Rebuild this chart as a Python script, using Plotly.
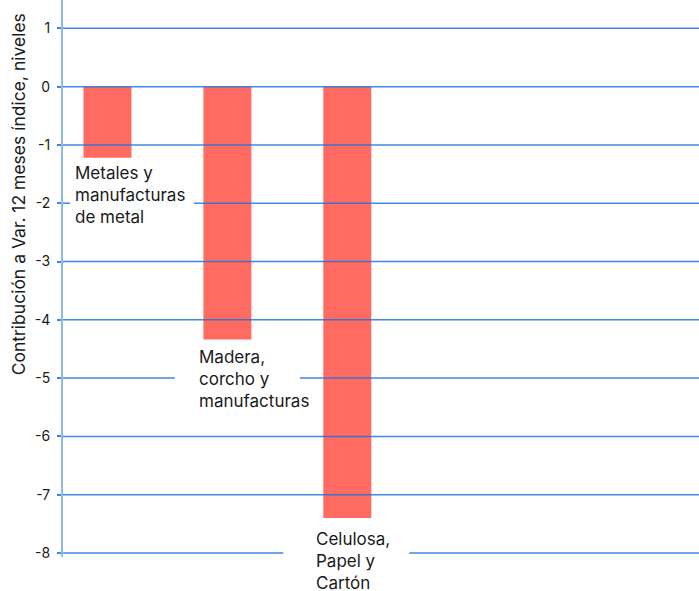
import plotly.graph_objects as go

# ---- data ----
categories = ["Metales y<br>manufacturas<br>de metal",
              "Madera,<br>corcho y<br>manufacturas",
              "Celulosa,<br>Papel y<br>Cartón"]
values = [-1.22, -4.34, -7.40]
positions = [0, 1, 2]
tick_vals = [1, 0, -1, -2, -3, -4, -5, -6, -7, -8]
tick_text = ["1", "0", "-1", "-2", "-3", "-4", "-5", "-6", "-7", "-8"]
y_title = "Contribución a Var. 12 meses índice, niveles"

# ---- styles ----
BAR_COLOR = "#FF6A61"
GRID_COLOR = "rgba(30,115,225,0.85)"
AXIS_COLOR = "#8DBAEE"
FONT = "Inter"
label_xshift = [-33.5, -29.5, -32]
label_yshift = [-4, -6, -10]
box_x = [(-37.5, 86.5), (-52.5, 72.5), (-64, 62)]
box_y = [(-3, -72), (-3, -75), (-3, -75)]

fig = go.Figure()
fig.add_trace(go.Bar(x=positions, y=values, width=0.4,
                     marker=dict(color=BAR_COLOR, line=dict(width=0)),
                     hoverinfo="skip", showlegend=False))

shapes = []
for tv in tick_vals:
    shapes.append(dict(type="line", xref="paper", yref="y", x0=0, x1=1, y0=tv, y1=tv,
                       line=dict(color=GRID_COLOR, width=1.5), layer="above"))
for p, v, bx, by in zip(positions, values, box_x, box_y):
    shapes.append(dict(type="rect", xref="x", yref="y",
                       xsizemode="pixel", ysizemode="pixel",
                       xanchor=p, yanchor=v, x0=bx[0], x1=bx[1], y0=by[0], y1=by[1],
                       fillcolor="white", line=dict(width=0), layer="above"))

annotations = []
for p, v, txt, xs, ys in zip(positions, values, categories, label_xshift, label_yshift):
    annotations.append(dict(x=p, y=v, xref="x", yref="y", text=txt, showarrow=False,
                            xanchor="left", yanchor="top", align="left",
                            xshift=xs, yshift=ys, borderpad=0,
                            font=dict(family=FONT, size=17, color="#1a1a1a")))
annotations.append(dict(x=-0.0708, y=0.651, xref="paper", yref="paper", text=y_title,
                        showarrow=False, textangle=-90, xanchor="center", yanchor="middle",
                        font=dict(family=FONT, size=17.5, color="#1a1a1a")))

fig.update_layout(
    width=699, height=591,
    margin=dict(l=63, r=0, t=0, b=34),
    paper_bgcolor="white", plot_bgcolor="white",
    shapes=shapes, annotations=annotations,
    xaxis=dict(range=[-0.371, 4.933], showgrid=False, zeroline=False,
               showticklabels=False, ticks="", showline=False, fixedrange=True),
    yaxis=dict(range=[-8.069, 1.486], tickvals=tick_vals, ticktext=tick_text,
               showgrid=False, zeroline=False,
               showline=True, linecolor=AXIS_COLOR, linewidth=2,
               ticks="outside", ticklen=4, tickcolor=GRID_COLOR, tickwidth=1.5,
               ticklabelstandoff=4,
               tickfont=dict(family=FONT, size=14, color="#1a1a1a")),
)

fig.write_html("out.html", config={"displayModeBar": False},
               post_script="document.body.style.margin='0';document.body.style.overflow='hidden';")
